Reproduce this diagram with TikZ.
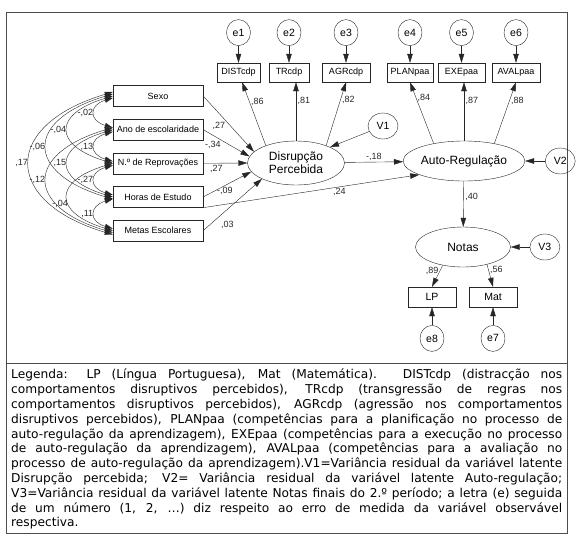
\documentclass[tikz,border=0pt]{standalone}
\usepackage{fontspec}
\setmainfont{Liberation Sans}
\newfontfamily\legfont{DejaVu Sans}
\usetikzlibrary{shapes.geometric,arrows.meta,positioning}

\begin{document}
\begin{tikzpicture}[
  x=1pt, y=-1pt,
  obs/.style={rectangle, draw=black!85, minimum width=90pt, minimum height=21pt,
              inner sep=0pt, font=\fontsize{9}{10}\selectfont},
  ind/.style={rectangle, draw=black!85, minimum height=19pt, inner xsep=3pt,
              inner ysep=0pt, font=\fontsize{9}{10}\selectfont},
  lat/.style={ellipse, draw=black!85, minimum width=97pt, minimum height=44pt,
              inner sep=0pt, align=center, font=\fontsize{12}{13}\selectfont},
  err/.style={ellipse, draw=black!85, minimum width=24pt, minimum height=26pt,
              inner sep=0pt, font=\fontsize{10.5}{12}\selectfont},
  res/.style={err, minimum width=30pt},
  arr/.style={-{Triangle[length=9pt,width=5.5pt]}, black!85},
  cov/.style={{Triangle[length=8pt,width=5pt]}-{Triangle[length=8pt,width=5pt]},
              black!85, line width=.4pt},
  coef/.style={font=\fontsize{9}{10}\selectfont, inner sep=1.5pt},
  frame/.style={draw=black!70, line width=.8pt}
]
\useasboundingbox (0,0) rectangle (580,547);
\draw[frame] (6,12) rectangle (567,533);
\draw[frame] (6,363) -- (567,363);

% exogenous variables
\node[obs]                     (sexo)  at (158,96) {Sexo};
\node[obs, below=12.25pt of sexo]  (ano)   {Ano de escolaridade};
\node[obs, below=12.25pt of ano]   (nrep)  {N.º de Reprovações};
\node[obs, below=12.25pt of nrep]  (horas) {Horas de Estudo};
\node[obs, below=12.25pt of horas] (metas) {Metas Escolares};

% latent variables
\node[lat] (disr) at (296,163) {Disrupção\\Percebida};
\node[lat, minimum width=95pt, minimum height=40pt] (auto)  at (464,161) {Auto-Regulação};
\node[lat, minimum width=95pt, minimum height=40pt] (notas) at (463,247) {Notas};

% indicators
\node[ind, minimum width=43pt] (dist) at (238.5,72.5) {DISTcdp};
\node[ind, minimum width=40pt] (tr)   at (289,72.5)   {TRcdp};
\node[ind, minimum width=48pt] (agr)  at (346,72.5)   {AGRcdp};
\node[ind, minimum width=46pt] (plan) at (410,72.5)   {PLANpaa};
\node[ind, minimum width=47pt] (exe)  at (461.5,72.5) {EXEpaa};
\node[ind, minimum width=48pt] (aval) at (516,72.5)   {AVALpaa};
\node[ind, minimum width=48pt, minimum height=20pt,
      font=\fontsize{10.5}{12}\selectfont] (lp)  at (432,297) {LP};
\node[ind, minimum width=48pt, minimum height=20pt,
      font=\fontsize{10.5}{12}\selectfont] (mat) at (493,297) {Mat};

% errors and residuals
\node[err, above=17pt of dist] (e1) {e1};
\node[err, above=17pt of tr]   (e2) {e2};
\node[err, above=17pt of agr]  (e3) {e3};
\node[err, above=17pt of plan] (e4) {e4};
\node[err, above=17pt of exe]  (e5) {e5};
\node[err, above=17pt of aval] (e6) {e6};
\node[err, below=18pt of lp]   (e8) {e8};
\node[err, below=18pt of mat]  (e7) {e7};
\node[res] (v1) at (383,126) {V1};
\node[res, right=20pt of auto]  (v2) {V2};
\node[res, right=19pt of notas] (v3) {V3};

\draw[arr] (e1) -- (dist);
\draw[arr] (e2) -- (tr);
\draw[arr] (e3) -- (agr);
\draw[arr] (e4) -- (plan);
\draw[arr] (e5) -- (exe);
\draw[arr] (e6) -- (aval);
\draw[arr] (e8) -- (lp);
\draw[arr] (e7) -- (mat);
\draw[arr] (v1) -- (disr.25);
\draw[arr] (v2) -- (auto);
\draw[arr] (v3) -- (notas);

% loadings
\draw[arr] (disr.150) -- node[coef, pos=.69, right] {,86} (dist);
\draw[arr] (disr.north) -- node[coef, pos=.68, right] {,81} (disr.north |- tr.south);
\draw[arr] (disr.30) -- node[coef, pos=.72, right] {,82} (agr.south);
\draw[arr] (auto.150) -- node[coef, pos=.75, right] {,84} (plan.south);
\draw[arr] (auto.north) -- node[coef, pos=.68, right] {,87} (auto.north |- exe.south);
\draw[arr] (auto.30) -- node[coef, pos=.7, right] {,88} (aval.south);
\draw[arr] (notas.222) -- node[coef, pos=.25, left] {,89} (lp.north);
\draw[arr] (notas.324) -- node[coef, pos=.25, right] {,56} (mat.north);

% structural paths
\draw[arr] (sexo.east)  -- node[coef, pos=.45, below left=-1pt] {,27} (disr.165);
\draw[arr] (ano.east)   -- node[coef, pos=.4, below left=-1pt] {-,34} (disr.172);
\draw[arr] (nrep.east)  -- node[coef, pos=.3, below] {,27} (disr.180);
\draw[arr] (horas.east) -- node[coef, pos=.45, below] {-,09} (disr.191);
\draw[arr] (metas.east) -- node[coef, pos=.25, below right=2pt] {,03} (disr.205);
\draw[arr] (disr) -- node[coef, above] {-,18} (auto);
\draw[arr] (horas.south east) -- node[coef, pos=.63, below] {,24} (auto.197);
\draw[arr] (auto) -- node[coef, pos=.35, right] {,40} (notas);

% covariances
\draw[cov] ([yshift=-2pt]sexo.west) .. controls +(-24,7) and +(-24,-7) .. ([yshift=2pt]ano.west)
  node[coef, midway, left] {-,02};
\draw[cov] ([yshift=-2pt]ano.west) .. controls +(-24,7) and +(-24,-7) .. ([yshift=2pt]nrep.west)
  node[coef, midway, left] {,13};
\draw[cov] ([yshift=-2pt]nrep.west) .. controls +(-24,7) and +(-24,-7) .. ([yshift=2pt]horas.west)
  node[coef, midway, left] {-,27};
\draw[cov] ([yshift=-2pt]horas.west) .. controls +(-24,7) and +(-24,-7) .. ([yshift=2pt]metas.west)
  node[coef, midway, left] {,11};
\draw[cov] (sexo.west) .. controls +(-60,18) and +(-60,-18) .. (nrep.west)
  node[coef, midway, left] {-,04};
\draw[cov] (ano.west) .. controls +(-60,18) and +(-60,-18) .. (horas.west)
  node[coef, midway, left] {,15};
\draw[cov] (nrep.west) .. controls +(-60,18) and +(-60,-18) .. (metas.west)
  node[coef, pos=.6, left] {-,04};
\draw[cov] ([yshift=2pt]sexo.west) .. controls +(-88,26) and +(-88,-26) .. ([yshift=-2pt]horas.west)
  node[coef, midway, left] {-,06};
\draw[cov] ([yshift=2pt]ano.west) .. controls +(-88,26) and +(-88,-26) .. ([yshift=-2pt]metas.west)
  node[coef, midway, left] {-,12};
\draw[cov] ([yshift=4pt]sexo.west) .. controls +(-111,33) and +(-111,-33) .. ([yshift=-4pt]metas.west)
  node[coef, midway, left] {,17};

% legend
\node[anchor=north west, inner sep=0pt, align=left,
      font=\legfont\fontsize{12.2}{14.8}\selectfont] (legenda) at (11,369) {%
\makebox[551pt][s]{Legenda: LP (Língua Portuguesa), Mat (Matemática). DISTcdp (distracção nos}\\
\makebox[551pt][s]{comportamentos disruptivos percebidos), TRcdp (transgressão de regras nos}\\
\makebox[551pt][s]{comportamentos disruptivos percebidos), AGRcdp (agressão nos comportamentos}\\
\makebox[551pt][s]{disruptivos percebidos), PLANpaa (competências para a planificação no processo de}\\
\makebox[551pt][s]{auto-regulação da aprendizagem), EXEpaa (competências para a execução no processo}\\
\makebox[551pt][s]{de auto-regulação da aprendizagem), AVALpaa (competências para a avaliação no}\\
\makebox[551pt][s]{processo de auto-regulação da aprendizagem).V1=Variância residual da variável latente}\\
\makebox[551pt][s]{Disrupção percebida; V2= Variância residual da variável latente Auto-regulação;}\\
\makebox[551pt][s]{V3=Variância residual da variável latente Notas finais do 2.º período; a letra (e) seguida}\\
\makebox[551pt][s]{de um número (1, 2, …) diz respeito ao erro de medida da variável observável}\\
respectiva.};
\end{tikzpicture}
\end{document}
